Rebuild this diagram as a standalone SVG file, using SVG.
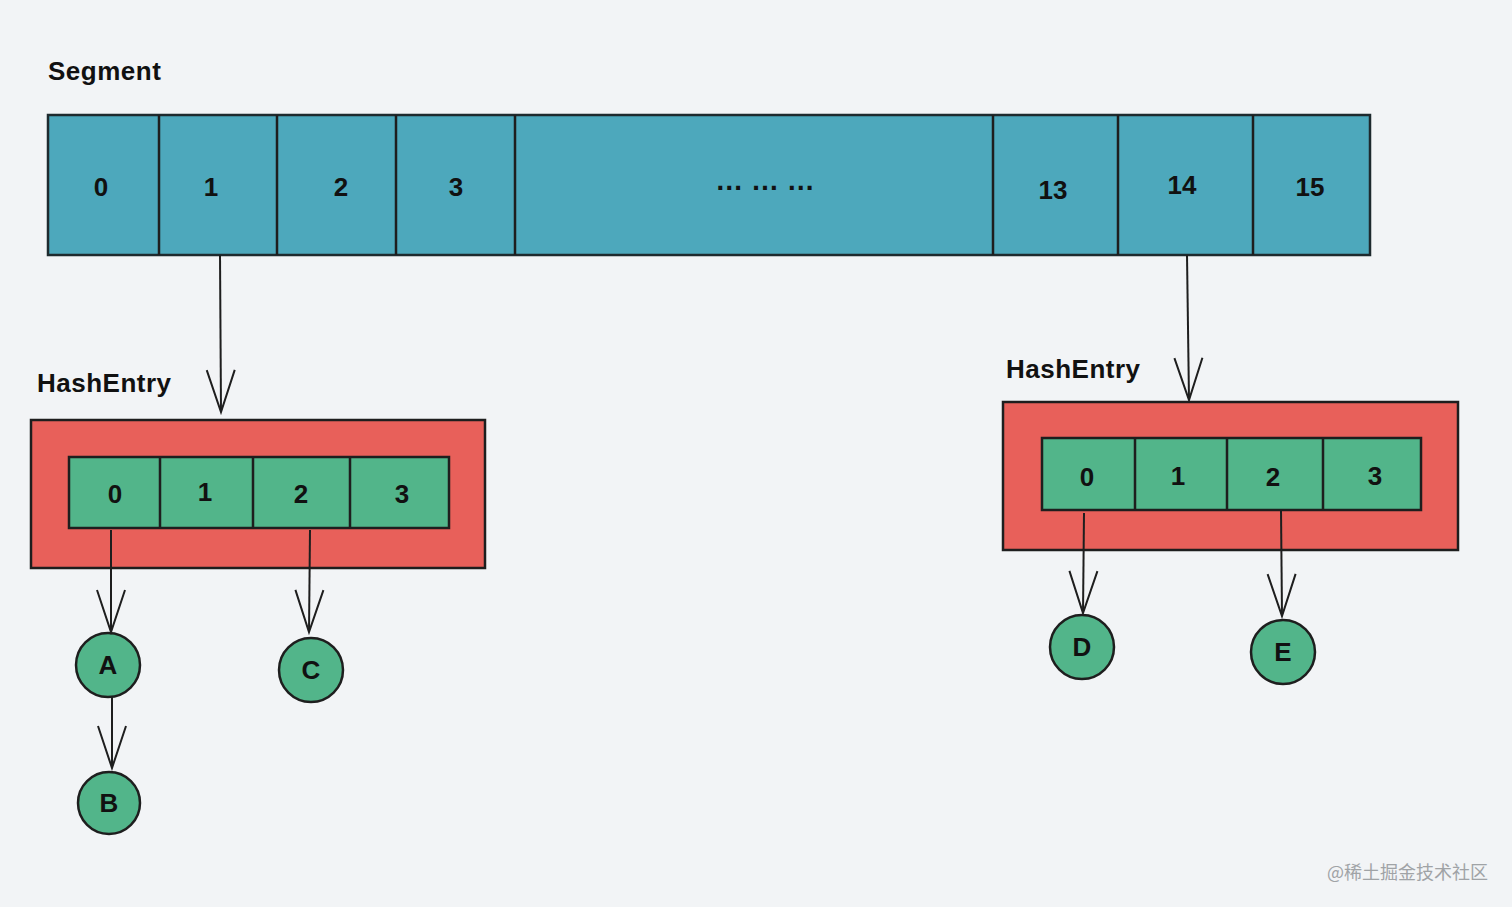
<svg xmlns="http://www.w3.org/2000/svg" width="1512" height="907" viewBox="0 0 1512 907">
<style>
.lbl{font-family:"Liberation Sans",sans-serif;font-size:26px;font-weight:bold;fill:#111;letter-spacing:0.5px;}
.num{font-family:"Liberation Sans",sans-serif;font-size:26px;font-weight:bold;fill:#111;text-anchor:middle;dominant-baseline:central;}
.seg{fill:#4da8bc;stroke:#1e2a2e;stroke-width:2.5;}
.red{fill:#e8605a;stroke:#1e1e1e;stroke-width:2.5;}
.grn{fill:#52b58a;stroke:#1e1e1e;stroke-width:2.5;}
.div{stroke:#1e1e1e;stroke-width:2.5;fill:none;}
.conn{stroke:#1e1e1e;stroke-width:2;fill:none;marker-end:url(#arr);}
.wm{font-family:"Noto Sans CJK SC","Liberation Sans",sans-serif;font-size:18px;fill:#a0a3a6;}
</style>
<defs>
<marker id="arr" markerUnits="userSpaceOnUse" viewBox="-45 -20 50 40" markerWidth="50" markerHeight="40" refX="0" refY="0" orient="auto">
<path d="M -42 -14 L 0 0 L -42 14" fill="none" stroke="#1e1e1e" stroke-width="2"/>
</marker>
</defs>
<rect width="1512" height="907" fill="#f2f4f6"/>

<g id="segment">
<text class="lbl" x="48" y="80">Segment</text>
<rect class="seg" x="48" y="115" width="1322" height="140"/>
<path class="div" d="M159 115V255M277 115V255M396 115V255M515 115V255M993 115V255M1118 115V255M1253 115V255"/>
<text class="num" x="101" y="187">0</text>
<text class="num" x="211" y="187">1</text>
<text class="num" x="341" y="187">2</text>
<text class="num" x="456" y="187">3</text>
<text class="num" x="765" y="180" style="font-size:28px">… … …</text>
<text class="num" x="1053" y="190">13</text>
<text class="num" x="1182" y="185">14</text>
<text class="num" x="1310" y="187">15</text>
</g>

<g id="hashentry-left">
<text class="lbl" x="37" y="392">HashEntry</text>
<rect class="red" x="31" y="420" width="454" height="148"/>
<rect class="grn" x="69" y="457" width="380" height="71"/>
<path class="div" d="M160 457V528M253 457V528M350 457V528"/>
<text class="num" x="115" y="494">0</text>
<text class="num" x="205" y="492">1</text>
<text class="num" x="301" y="494">2</text>
<text class="num" x="402" y="494">3</text>
</g>

<g id="hashentry-right">
<text class="lbl" x="1006" y="378">HashEntry</text>
<rect class="red" x="1003" y="402" width="455" height="148"/>
<rect class="grn" x="1042" y="438" width="379" height="72"/>
<path class="div" d="M1135 438V510M1227 438V510M1323 438V510"/>
<text class="num" x="1087" y="477">0</text>
<text class="num" x="1178" y="476">1</text>
<text class="num" x="1273" y="477">2</text>
<text class="num" x="1375" y="476">3</text>
</g>

<g id="node-A"><circle class="grn" cx="108" cy="665" r="32"/><text class="num" x="108" y="665">A</text></g>
<g id="node-B"><circle class="grn" cx="109" cy="803" r="31"/><text class="num" x="109" y="803">B</text></g>
<g id="node-C"><circle class="grn" cx="311" cy="670" r="32"/><text class="num" x="311" y="670">C</text></g>
<g id="node-D"><circle class="grn" cx="1082" cy="647" r="32"/><text class="num" x="1082" y="647">D</text></g>
<g id="node-E"><circle class="grn" cx="1283" cy="652" r="32"/><text class="num" x="1283" y="652">E</text></g>

<g id="connectors">
<path class="conn" d="M220 255L221 412"/>
<path class="conn" d="M1187 255L1189 400"/>
<path class="conn" d="M111 530L111 632"/>
<path class="conn" d="M310 530L309 632"/>
<path class="conn" d="M112 697L112 768"/>
<path class="conn" d="M1084 513L1083 613"/>
<path class="conn" d="M1281 510L1282 616"/>
</g>

<text class="wm" x="1327" y="879">@稀土掘金技术社区</text>
</svg>
